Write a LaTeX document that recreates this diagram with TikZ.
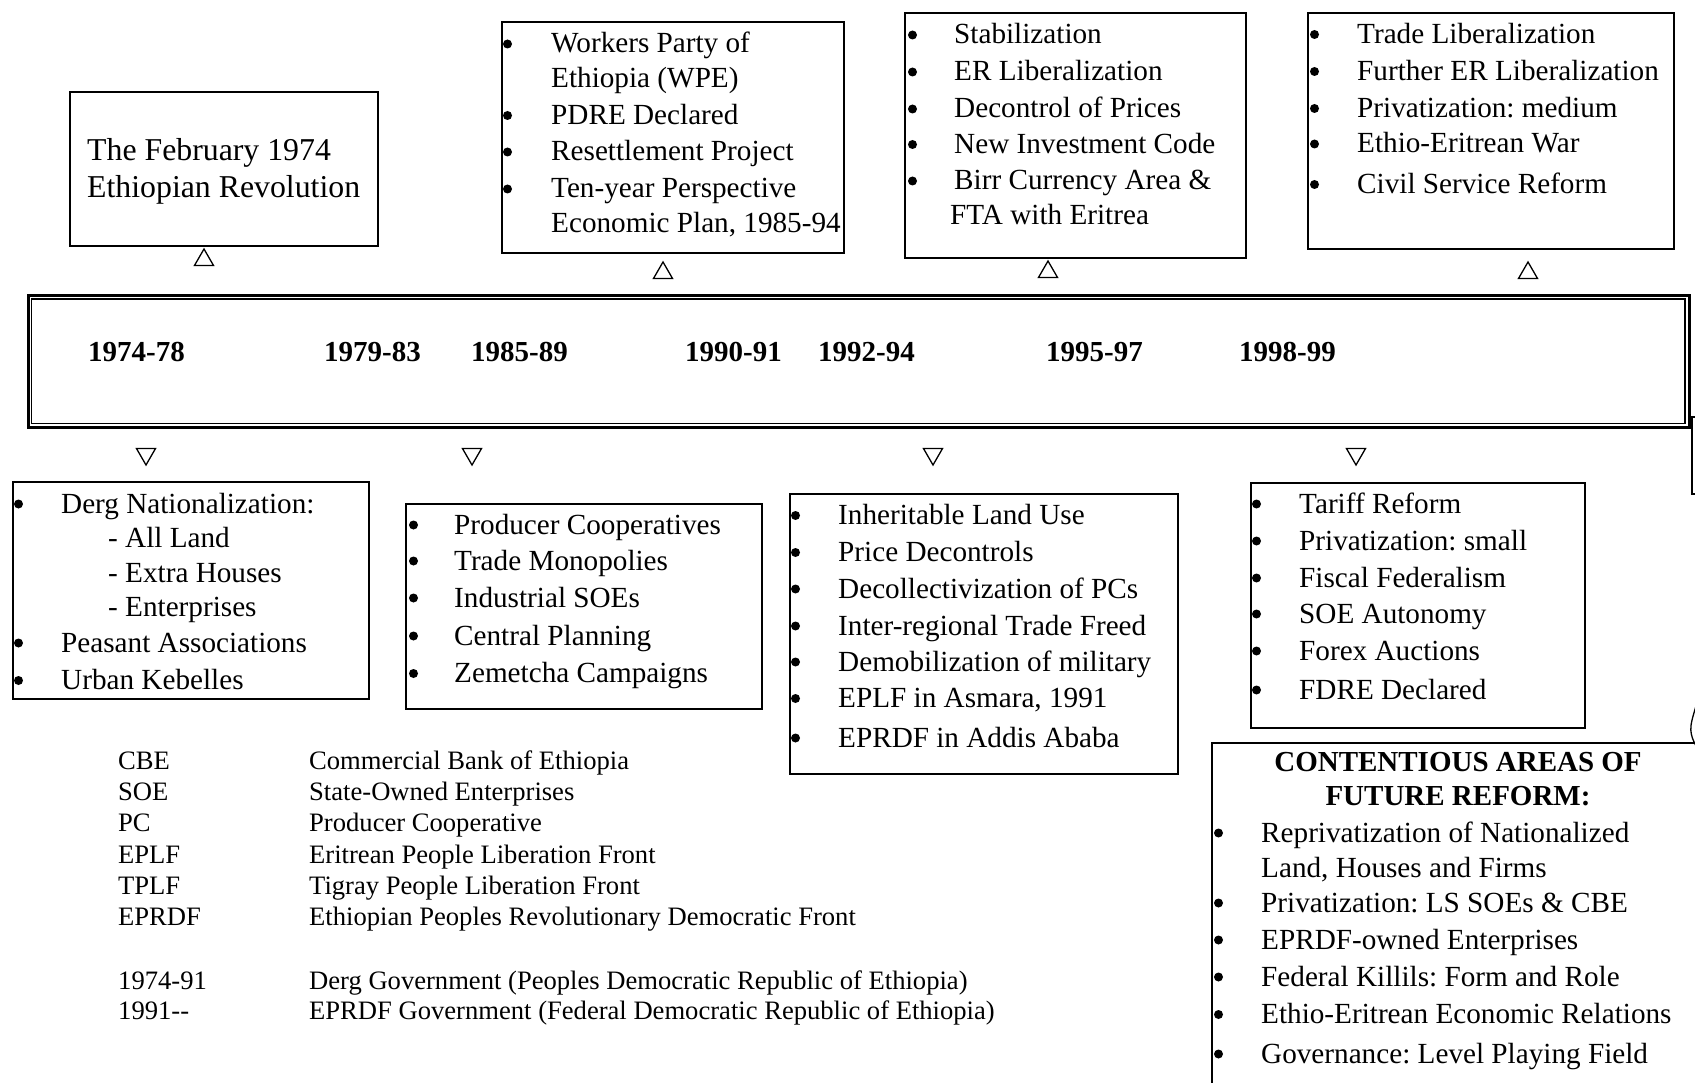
\documentclass[tikz,border=0pt]{standalone}
\usepackage{fontspec}
\setmainfont{Liberation Serif}
\usetikzlibrary{shapes.geometric}
\begin{document}
\frenchspacing
\begin{tikzpicture}[x=1pt,y=-1pt,
  box/.style={draw, line width=1.6pt, inner sep=0pt, anchor=north west},
  txt/.style={inner sep=0pt, anchor=base west, font=\fontsize{29.2}{35}\selectfont},
  big/.style={inner sep=0pt, anchor=base west, font=\fontsize{31.8}{38}\selectfont},
  yr/.style={inner sep=0pt, anchor=base west, font=\fontsize{29}{35}\selectfont\bfseries},
  ttl/.style={inner sep=0pt, anchor=base, font=\fontsize{29}{35}\selectfont\bfseries},
  leg/.style={inner sep=0pt, anchor=base west, font=\fontsize{26.6}{31}\selectfont},
  bul/.style={circle, fill, inner sep=0pt, minimum size=9pt},
  tri/.style={draw, line width=1.3pt, regular polygon, regular polygon sides=3, minimum size=22pt, inner sep=0pt},
  trid/.style={tri, shape border rotate=180}]
\useasboundingbox (0,0) rectangle (1695,1083);
\clip (0,0) rectangle (1695,1083);

% ---------- timeline double box ----------
\node[box, line width=3pt, minimum width=1661pt, minimum height=132.2pt] (tl) at (27.3,293.8) {};
\node[box, line width=1.6pt, minimum width=1653.5pt, minimum height=124.2pt] (tlin) at (30.8,298.3) {};
\foreach \x/\t [count=\i] in {88/1974-78, 324/1979-83, 471/1985-89, 685/1990-91, 818/1992-94, 1046/1995-97, 1239/1998-99}
  \node[yr] (yr\i) at (\x,361) {\t};

% clipped shapes at the right edge
\node[box, minimum width=40pt, minimum height=77pt] (offbox) at (1691,416) {};
\draw[line width=1.3pt] (1696,706) .. controls (1693,716) and (1690.5,724) .. (1690.8,730)
   .. controls (1691.2,736) and (1693,740) .. (1695.5,745);

% ---------- upper boxes ----------
\node[box, minimum width=308pt, minimum height=154pt] (rev) at (69,91) {};
\node[big] (rev1) at (87,161) {The February 1974};
\node[big] (rev2) at (87,198) {Ethiopian Revolution};
\node[tri] (trirev) at (204,260) {};

\node[box, minimum width=342pt, minimum height=231pt] (wpe) at (501,21) {};
\foreach \y/\t [count=\i] in {53/Workers Party of, 88/Ethiopia (WPE), 124.5/PDRE Declared, 161/Resettlement Project, 198/Ten-year Perspective, 233/{Economic Plan, 1985-94}}
  \node[txt] (wpe\i) at (551,\y) {\t};
\foreach \y [count=\i] in {53,124.5,161,198}
  \node[bul] (wpeb\i) at (507.5,\y-9) {};
\node[tri] (triwpe) at (663,273) {};

\node[box, minimum width=341pt, minimum height=245pt] (stab) at (904,12) {};
\foreach \y/\t [count=\i] in {44,81,118,153.5,190}
  {}
\foreach \y/\t [count=\i] in {44/Stabilization, 81/ER Liberalization, 118/Decontrol of Prices, 153.5/New Investment Code, 190/Birr Currency Area \&}
  \node[txt] (stab\i) at (954,\y) {\t};
\node[txt] (stab6) at (950,225) {FTA with Eritrea};
\foreach \y [count=\i] in {44,81,118,153.5,190}
  \node[bul] (stabb\i) at (912.5,\y-9) {};
\node[tri] (tristab) at (1048,272) {};

\node[box, minimum width=366pt, minimum height=236pt] (trade) at (1307,12) {};
\foreach \y/\t [count=\i] in {43.5/Trade Liberalization, 80.5/Further ER Liberalization, 117.5/Privatization: medium, 153/Ethio-Eritrean War, 193.5/Civil Service Reform}
  {\node[txt] (trade\i) at (1357,\y) {\t};
   \node[bul] (tradeb\i) at (1314.5,\y-9) {};}
\node[tri] (tritrade) at (1528,273) {};

% ---------- lower boxes ----------
\node[trid] (tderg) at (146,454) {};
\node[box, minimum width=356pt, minimum height=217pt] (derg) at (12,481) {};
\node[txt] (derg1) at (61,513) {Derg Nationalization:};
\node[txt] (derg2) at (108,547) {- All Land};
\node[txt] (derg3) at (108,582) {- Extra Houses};
\node[txt] (derg4) at (108,616) {- Enterprises};
\node[txt] (derg5) at (61,652) {Peasant Associations};
\node[txt] (derg6) at (61,689.5) {Urban Kebelles};
\foreach \y [count=\i] in {513,652,689.5}
  \node[bul] (dergb\i) at (18.5,\y-9) {};

\node[trid] (tprod) at (472,454) {};
\node[box, minimum width=356pt, minimum height=205pt] (prod) at (405,503) {};
\foreach \y/\t [count=\i] in {534/Producer Cooperatives, 570/Trade Monopolies, 607/Industrial SOEs, 645/Central Planning, 682.5/Zemetcha Campaigns}
  {\node[txt] (prod\i) at (454,\y) {\t};
   \node[bul] (prodb\i) at (413.5,\y-9) {};}

\node[trid] (tinh) at (933,454) {};
\node[box, minimum width=388pt, minimum height=280pt] (inh) at (789,493) {};
\foreach \y/\t [count=\i] in {524.5/Inheritable Land Use, 561.5/Price Decontrols, 598/Decollectivization of PCs, 635/Inter-regional Trade Freed, 671/Demobilization of military, {707.5/EPLF in Asmara, 1991}, 747/EPRDF in Addis Ababa}
  {\node[txt] (inh\i) at (838,\y) {\t};
   \node[bul] (inhb\i) at (795.5,\y-9) {};}

\node[trid] (ttar) at (1356,454) {};
\node[box, minimum width=334pt, minimum height=245pt] (tar) at (1250,482) {};
\foreach \y/\t [count=\i] in {513/Tariff Reform, 550/Privatization: small, 587/Fiscal Federalism, 623/SOE Autonomy, 660/Forex Auctions, 699/FDRE Declared}
  {\node[txt] (tar\i) at (1299,\y) {\t};
   \node[bul] (tarb\i) at (1256.5,\y-9) {};}

% ---------- contentious areas ----------
\node[box, minimum width=520pt, minimum height=400pt] (cont) at (1211,742) {};
\node[ttl] (contt1) at (1458,771) {CONTENTIOUS AREAS OF};
\node[ttl] (contt2) at (1458,805) {FUTURE REFORM:};
\node[txt] (cont1) at (1261,842) {Reprivatization of Nationalized};
\node[txt] (cont2) at (1261,877) {Land, Houses and Firms};
\node[txt] (cont3) at (1261,912) {Privatization: LS SOEs \& CBE};
\node[txt] (cont4) at (1261,949) {EPRDF-owned Enterprises};
\node[txt] (cont5) at (1261,986) {Federal Killils: Form and Role};
\node[txt] (cont6) at (1261,1023.5) {Ethio-Eritrean Economic Relations};
\node[txt] (cont7) at (1261,1063) {Governance: Level Playing Field};
\foreach \y [count=\i] in {842,912,949,986,1023.5,1063}
  \node[bul] (contb\i) at (1218.5,\y-9) {};

% ---------- legend ----------
\foreach \y/\a/\b [count=\i] in {769/CBE/Commercial Bank of Ethiopia, 800/SOE/State-Owned Enterprises, 831/PC/Producer Cooperative, 863/EPLF/Eritrean People Liberation Front, 894/TPLF/Tigray People Liberation Front, 925/EPRDF/Ethiopian Peoples Revolutionary Democratic Front, 989/1974-91/Derg Government (Peoples Democratic Republic of Ethiopia), 1019/1991-{}-/EPRDF Government (Federal Democratic Republic of Ethiopia)}
  {\node[leg] (abbr\i) at (118,\y) {\a};
   \node[leg] (expl\i) at (309,\y) {\b};}
\end{tikzpicture}
\end{document}
